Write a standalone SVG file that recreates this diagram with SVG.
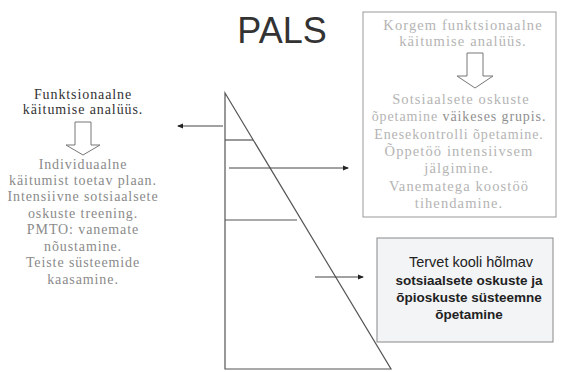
<svg xmlns="http://www.w3.org/2000/svg" width="561" height="372" viewBox="0 0 561 372">
<style>
.ser{font-family:"Liberation Serif","Times New Roman",serif;font-size:14px;text-anchor:middle;letter-spacing:0.9px}
.rs{font-size:14.5px;letter-spacing:1.1px}
.dark{fill:#333}
.mid{fill:#8a8a8a}
.pale{fill:#b4b4b4}
.pale2{fill:#8f8f8f}
.sans{font-family:"Liberation Sans",Arial,sans-serif;text-anchor:middle;fill:#222}
.b{font-weight:bold}
.ln{stroke:#555;stroke-width:1.2;fill:none}
.conn{stroke:#444;stroke-width:1;fill:none;marker-end:url(#ah)}
.hol{fill:#fff;stroke:#777;stroke-width:1}
</style>
<defs>
<marker id="ah" viewBox="0 0 6 6" refX="5" refY="3" markerWidth="6" markerHeight="6" orient="auto" markerUnits="userSpaceOnUse">
<path d="M0,0.5 L6,3 L0,5.5 z" fill="#222"/>
</marker>
</defs>
<rect width="561" height="372" fill="#fff"/>
<g id="title">
<text x="282" y="43" font-family="'Liberation Sans',Arial,sans-serif" font-size="36" fill="#333" text-anchor="middle">PALS</text>
</g>
<g id="pyramid">
<path class="ln" d="M225,93 L391,369 L225,369 Z"/>
<line class="ln" x1="225" y1="140" x2="253" y2="140"/>
<line class="ln" x1="225" y1="220" x2="297" y2="220"/>
</g>
<g id="left-node">
<text class="ser dark" x="83" y="99">Funktsionaalne</text>
<text class="ser dark" x="83" y="114">käitumise analüüs.</text>
<polygon class="hol" points="75,122 91,122 91,145 100,145 83,155 66,145 75,145"/>
<text class="ser mid" x="83" y="169">Individuaalne</text>
<text class="ser mid" x="83" y="185">käitumist toetav plaan.</text>
<text class="ser mid" x="83" y="201">Intensiivne sotsiaalsete</text>
<text class="ser mid" x="83" y="218">oskuste treening.</text>
<text class="ser mid" x="83" y="234">PMTO: vanemate</text>
<text class="ser mid" x="83" y="251">nõustamine.</text>
<text class="ser mid" x="83" y="267">Teiste süsteemide</text>
<text class="ser mid" x="83" y="284">kaasamine.</text>
</g>
<g id="top-right-node">
<rect x="363" y="12" width="193" height="205" fill="#fff" stroke="#999" stroke-width="1"/>
<text class="ser rs pale" x="463" y="30">Korgem funktsionaalne</text>
<text class="ser rs pale" x="463" y="46">käitumise analüüs.</text>
<polygon class="hol" points="467,53 483,53 483,76 493,76 475,88 457,76 467,76"/>
<text class="ser rs pale" x="461" y="104">Sotsiaalsete oskuste</text>
<text class="ser pale" x="459" y="121">õpetamine <tspan class="pale2">väikeses grupis.</tspan></text>
<text class="ser pale" x="459" y="139">Enesekontrolli õpetamine.</text>
<text class="ser rs pale" x="459" y="156">Õppetöö intensiivsem</text>
<text class="ser rs pale" x="459" y="173">jälgimine.</text>
<text class="ser rs pale" x="459" y="191">Vanematega koostöö</text>
<text class="ser rs pale" x="459" y="208">tihendamine.</text>
</g>
<g id="bottom-right-node">
<rect x="377" y="238" width="176" height="104" fill="#f2f4f6" stroke="#888" stroke-width="1"/>
<text class="sans" x="471" y="267" font-size="14.5">Tervet kooli hõlmav</text>
<text class="sans b" x="469" y="285" font-size="13.5">sotsiaalsete oskuste ja</text>
<text class="sans b" x="469" y="302" font-size="13.5">õpioskuste süsteemne</text>
<text class="sans b" x="469" y="319" font-size="13.5">õpetamine</text>
</g>
<g id="connectors">
<line class="conn" x1="223" y1="126" x2="178" y2="126"/>
<line class="conn" x1="229" y1="168" x2="348" y2="168"/>
<line class="conn" x1="315" y1="277" x2="363" y2="277"/>
</g>
</svg>
